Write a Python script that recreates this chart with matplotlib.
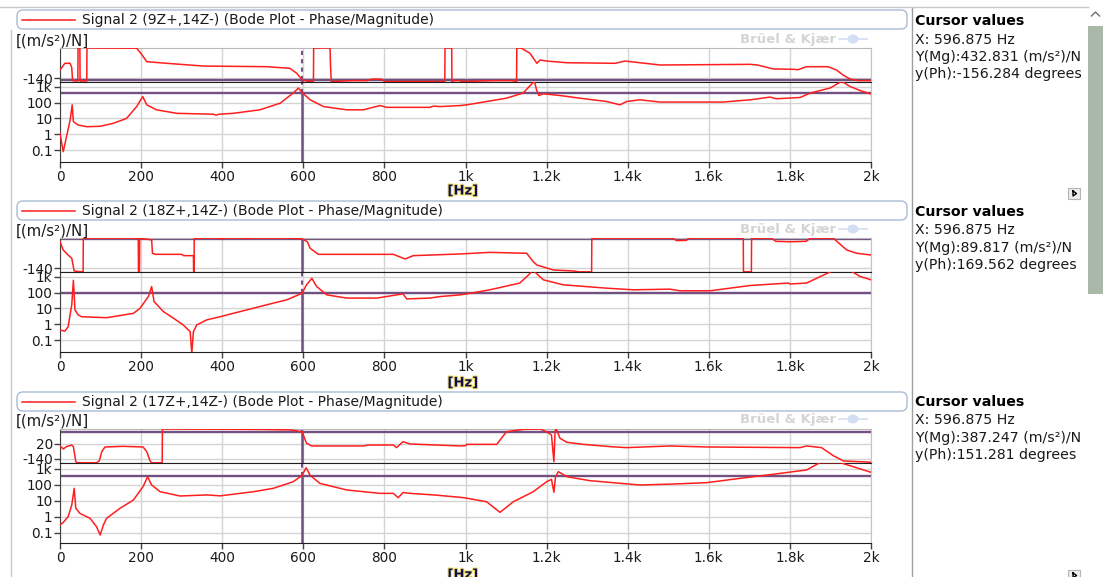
import matplotlib
matplotlib.use('Agg')
import matplotlib.pyplot as plt
import matplotlib.patheffects as pe
from matplotlib.patches import FancyBboxPatch, Rectangle, Ellipse
from matplotlib.ticker import FixedLocator, FixedFormatter, NullLocator

W, H = 1103, 577

# axis ticks
FREQ_TICKS = [0, 200, 400, 600, 800, 1000, 1200, 1400, 1600, 1800, 2000]
FREQ_LABELS = ['0', '200', '400', '600', '800', '1k', '1.2k', '1.4k', '1.6k', '1.8k', '2k']
MAG_TICKS = [0.1, 1, 10, 100, 1000]
MAG_LABELS = ['0.1', '1', '10', '100', '1k']

SIGNALS = ['Signal 2 (9Z+,14Z-) (Bode Plot - Phase/Magnitude)',
           'Signal 2 (18Z+,14Z-) (Bode Plot - Phase/Magnitude)',
           'Signal 2 (17Z+,14Z-) (Bode Plot - Phase/Magnitude)']

CURSOR_HZ = 596.875
CURSOR_MAG = [432.831, 89.817, 387.247]
CURSOR_PH = [-156.284, 169.562, 151.281]

# --- 9Z+,14Z- ---
P1_PH_HZ = [0, 12, 25, 29, 31, 44, 44.5, 49, 49.5, 66, 66.5, 189, 200, 214, 263, 353, 510, 567, 584,
            596.875, 610, 625, 625.5, 666, 667, 669, 723, 740, 757, 769, 793, 800, 949, 949.5, 966, 966.5,
            974, 986, 990, 1073, 1114, 1126, 1126.5, 1138, 1159, 1176, 1184, 1200, 1250, 1369, 1393, 1430,
            1480, 1702, 1720, 1759, 1808, 1820, 1841, 1894, 1915, 1931, 1948, 1968, 2000]
P1_PH_DEG = [-53, 18, 18, -30, -165, -170, 180, 180, -170, -170, 180, 178, 120, 35, 18, -11, -18, -35, -88,
             -156, -172, -172, 180, 180, 0, -175, -165, -165, -165, -150, -150, -175, -175, 180, 180, -175,
             -165, -165, -175, -165, -165, -175, 180, 178, 124, 18, 53, 42, 24, 18, 42, 24,
             0, 7, 0, -42, -45, -50, -18, -18, -53, -106, -148, -165, -165]
P1_MG_HZ = [0, 8, 25, 30, 33, 44, 66, 99, 131, 164, 189, 204, 214, 238, 288, 378, 385, 392, 427, 493, 543,
            575, 588, 596.875, 617, 650, 707, 748, 789, 806, 912, 921, 937, 987, 1003, 1101, 1142, 1170,
            1175, 1181, 1192, 1233, 1282, 1348, 1381, 1397, 1430, 1480, 1635, 1702, 1751, 1767, 1825, 1850,
            1899, 1928, 1948, 1973, 2000]
P1_MG_VAL = [1.15, 0.08, 8, 72, 6.3, 3.9, 3.0, 3.2, 4.9, 10, 56, 240, 72, 35, 21, 18.5, 16, 18.5, 21, 35, 92,
             400, 830, 433, 150, 56, 35, 35, 65, 50, 50, 60, 56, 65, 72, 190, 400, 2300,
             645, 280, 360, 280, 190, 117, 72, 117, 150, 108, 108, 150, 222, 175, 210, 400,
             830, 2200, 1050, 580, 350]

# --- 18Z+,14Z- ---
P2_PH_HZ = [0, 8, 20, 29, 35, 45, 57, 57.5, 193, 193.5, 196, 196.5, 226, 228, 235, 300, 305, 329, 329.5,
            330.5, 331, 395, 398, 402, 460, 463, 466, 570, 596.875, 610, 617, 637, 822, 851, 871, 987, 1060,
            1151, 1167, 1176, 1217, 1266, 1280, 1311, 1311.5, 1389, 1512, 1520, 1545, 1550, 1685, 1685.5,
            1705, 1705.5, 1755, 1765, 1800, 1840, 1850, 1907, 1940, 1965, 2000]
P2_PH_DEG = [141, 53, 0, -35, -169, -175, -178, 178, 178, -178, -178, 178, 160, 18, 7, 7, -7, -7, -178,
             -178, 178, 178, 165, 178, 178, 170, 178, 178, 170, 140, 71, 7, 7, -42, -7, 11, 28,
             18, -71, -106, -159, -169, -178, -178, 178, 178, 178, 152, 155, 178, 178, -178,
             -178, 178, 178, 145, 140, 145, 178, 178, 53, 18, 0]
P2_MG_HZ = [0, 12, 20, 29, 33, 37, 45, 53, 115, 181, 197, 218, 226, 232, 255, 280, 304, 321, 325, 329, 337,
            362, 395, 427, 460, 510, 559, 596.875, 608, 621, 633, 658, 707, 781, 846, 855, 912, 937, 987,
            999, 1060, 1134, 1167, 1192, 1241, 1348, 1414, 1504, 1529, 1603, 1702, 1796, 1800, 1841, 1907,
            1948, 1973, 2000]
P2_MG_VAL = [0.43, 0.37, 0.7, 17, 600, 8, 3.9, 3.0, 2.6, 4.9, 10, 56, 240, 27, 6.3, 2.4, 0.9, 0.34, 0.015,
             0.34, 0.9, 1.9, 3.0, 4.9, 8, 17, 35, 89.8, 310, 800, 240, 72, 45, 45, 83, 40, 45, 56, 72,
             80, 150, 400, 2500, 640, 310, 190, 150, 165, 130, 130, 280, 400, 350, 400, 2500,
             2500, 1050, 640]

# --- 17Z+,14Z- ---
P3_PH_HZ = [0, 8, 16, 29, 33, 39, 42, 90, 97, 103, 111, 156, 205, 214, 222, 226, 252, 252.5, 395, 500, 570,
            596.875, 608, 621, 748, 760, 822, 830, 846, 863, 987, 1000, 1003, 1077, 1101, 1143, 1184, 1200,
            1212, 1218, 1221, 1224, 1233, 1250, 1291, 1356, 1397, 1504, 1595, 1825, 1841, 1878, 1907, 1932,
            2000]
P3_PH_DEG = [-1, -33, -8, 9, -8, -169, -180, -180, -160, -62, -12, -5, -12, -62, -160, -180, -180, 180, 178,
             175, 170, 151, 27, -1, -1, 9, 9, -19, 45, 20, -1, 2, 16, 16, 151, 176, 180, 151,
             116, -169, 160, 180, 81, 38, 16, -8, -19, -1, -12, -19, -1, -19, -105, -161, -175]
P3_MG_HZ = [0, 8, 20, 29, 35, 39, 49, 74, 90, 99, 107, 115, 148, 181, 205, 216, 226, 247, 296, 362, 395, 477,
            526, 575, 596.875, 607, 617, 641, 707, 789, 822, 834, 846, 863, 921, 987, 1003, 1052, 1085,
            1118, 1167, 1200, 1212, 1218, 1222, 1229, 1250, 1307, 1430, 1512, 1595, 1677, 1759, 1841, 1874,
            1924, 1956, 2000]
P3_MG_VAL = [0.32, 0.46, 1.05, 5.6, 62, 3.5, 1.7, 0.83, 0.25, 0.075, 0.32, 0.83, 3.5, 11.5, 80, 330, 100, 38,
             20.5, 24, 21, 38, 62, 160, 387, 1200, 400, 126, 49, 30, 30, 16, 34, 30, 24, 17, 15, 9, 1.95,
             9, 38, 160, 225, 35, 330, 680, 330, 186, 100, 115, 140, 260, 470, 870, 2500,
             2500, 1400, 620]

PHASE_HZ = [P1_PH_HZ, P2_PH_HZ, P3_PH_HZ]
PHASE_DEG = [P1_PH_DEG, P2_PH_DEG, P3_PH_DEG]
MAG_HZ = [P1_MG_HZ, P2_MG_HZ, P3_MG_HZ]
MAG_VAL = [P1_MG_VAL, P2_MG_VAL, P3_MG_VAL]

# pixel layout of the three panels
PH_TOP = [48, 238, 429]
PH_BOT = [82, 272, 463]
MG_BOT = [162, 352, 543]
PH_LIM = [(-180, 180), (-180, 180), (-183, 180)]
PH_TICKS = [[-140], [-140], [20, -140]]
MG_LIM = [(10 ** -1.75, 10 ** 3.3), (10 ** -1.75, 10 ** 3.3), (10 ** -1.625, 10 ** 3.375)]
LEG_Y = [10, 201, 392]
TEXT_Y = [41, 231, 421]
HZ_Y = [191, 383, 575]
CURSOR_Y = [21, 212, 402]

RED = '#FF1E1E'
PURPLE = '#725082'
GRID = '#D4D4D4'
TXT = '#1A1A1A'

fig = plt.figure(figsize=(W / 100, H / 100), dpi=100)
fig.patch.set_facecolor('white')


def px_axes(l, t, r, b, **kw):
    return fig.add_axes([l / W, 1 - b / H, (r - l) / W, (b - t) / H], **kw)


bg = px_axes(0, 0, W, H)
bg.set_xlim(0, W)
bg.set_ylim(H, 0)
bg.axis('off')

# window frame lines
bg.plot([0, 1088], [6.5, 6.5], color='#C8C8C8', lw=1)
bg.plot([11, 11], [30, H], color='#C8C8C8', lw=1)
bg.plot([912, 912], [8, H], color='#A0A0A0', lw=1)

# scrollbar
bg.add_patch(Rectangle((1088, 26), 15, 268, fc='#A9B8A8', ec='none'))
bg.plot([1091.5, 1095.5, 1099.5], [16, 12, 16], color='#707070', lw=1)
for by in [188, 570]:
    bg.add_patch(Rectangle((1068, by), 12, 11, fc='#EDEDED', ec='#B5B5B5', lw=0.8))
    bg.plot([1073, 1073, 1076.5, 1073], [by + 3, by + 8, by + 5.5, by + 3], color='black', lw=1)

for i in range(3):
    ly = LEG_Y[i]
    bg.add_patch(FancyBboxPatch((17, ly), 890, 19, boxstyle='round,pad=0,rounding_size=6',
                                fc='white', ec='#A9BCD4', lw=1))
    bg.plot([22, 75], [ly + 10, ly + 10], color=RED, lw=1.1)
    bg.text(82, ly + 10, SIGNALS[i], fontsize=10, va='center', ha='left', color=TXT)
    bg.text(16, TEXT_Y[i], '[(m/s²)/N]', fontsize=10.8, va='center', ha='left', color=TXT)
    bg.text(740, TEXT_Y[i] - 2, 'Brüel & Kjær', fontsize=9.5, fontweight='bold', va='center',
            ha='left', color='#D4D4D4')
    bg.add_patch(Ellipse((853, TEXT_Y[i] - 2), 11, 9, fc='#D3DEF2', ec='none'))
    bg.plot([839, 867], [TEXT_Y[i] - 2, TEXT_Y[i] - 2], color='#D3DEF2', lw=1.2)
    bg.text(463, HZ_Y[i], '[Hz]', fontsize=9.5, fontweight='bold', va='center', ha='center',
            color='#10104A', path_effects=[pe.withStroke(linewidth=1.6, foreground='#F4E47A')])

    # phase axes
    ph = px_axes(60, PH_TOP[i], 871, PH_BOT[i])
    ph.set_xlim(0, 2000)
    ph.set_ylim(*PH_LIM[i])
    ph.xaxis.set_major_locator(FixedLocator(FREQ_TICKS))
    ph.set_xticklabels([])
    ph.tick_params(axis='x', length=0)
    ph.yaxis.set_major_locator(FixedLocator(PH_TICKS[i]))
    ph.yaxis.set_major_formatter(FixedFormatter([str(v) for v in PH_TICKS[i]]))
    ph.tick_params(axis='y', length=4, width=1, pad=1, labelsize=9.8, color='#404040',
                   labelcolor=TXT)
    ph.grid(True, color=GRID, lw=1)
    ph.set_axisbelow(True)
    ph.plot(PHASE_HZ[i], PHASE_DEG[i], color=RED, lw=1.1, zorder=3)
    ph.axhline(CURSOR_PH[i], color=PURPLE, lw=1.7, zorder=2.5)
    ph.plot([CURSOR_HZ, CURSOR_HZ], [CURSOR_PH[i], PH_LIM[i][1]], color=PURPLE, lw=1.5,
            ls=(0, (2, 2)), zorder=2.5)
    ph.plot([CURSOR_HZ, CURSOR_HZ], [PH_LIM[i][0], CURSOR_PH[i]], color=PURPLE, lw=1.8, zorder=2.5)

    # magnitude axes
    mg = px_axes(60, PH_BOT[i], 871, MG_BOT[i])
    mg.set_xlim(0, 2000)
    mg.set_yscale('log')
    mg.set_ylim(*MG_LIM[i])
    mg.xaxis.set_major_locator(FixedLocator(FREQ_TICKS))
    mg.xaxis.set_major_formatter(FixedFormatter(FREQ_LABELS))
    mg.yaxis.set_major_locator(FixedLocator(MAG_TICKS))
    mg.yaxis.set_major_formatter(FixedFormatter(MAG_LABELS))
    mg.yaxis.set_minor_locator(NullLocator())
    mg.tick_params(axis='both', length=4, width=1, pad=1.5, labelsize=9.8, color='#404040',
                   labelcolor=TXT)
    mg.grid(True, color=GRID, lw=1)
    mg.set_axisbelow(True)
    mg.plot(MAG_HZ[i], MAG_VAL[i], color=RED, lw=1.1, zorder=3)
    mg.axhline(CURSOR_MAG[i], color=PURPLE, lw=1.7, zorder=2.5)
    mg.plot([CURSOR_HZ, CURSOR_HZ], [CURSOR_MAG[i], MG_LIM[i][1]], color=PURPLE, lw=1.5,
            ls=(0, (2, 2)), zorder=2.5)
    mg.plot([CURSOR_HZ, CURSOR_HZ], [MG_LIM[i][0], CURSOR_MAG[i]], color=PURPLE, lw=1.8, zorder=2.5)

    for ax in (ph, mg):
        ax.spines['left'].set_color('#404040')
        ax.spines['right'].set_color('#C4C4C4')
        ax.spines['top'].set_color('#202020')
        ax.spines['bottom'].set_color('#202020')
    ph.spines['top'].set_color('#B8B8B8')

# cursor readouts, clipped just left of the scrollbar
cur = px_axes(912, 0, 1082, H)
cur.set_xlim(912, 1082)
cur.set_ylim(H, 0)
cur.axis('off')
for i in range(3):
    y0 = CURSOR_Y[i]
    cur.text(915, y0, 'Cursor values', fontsize=10.2, fontweight='bold', va='center', clip_on=True)
    cur.text(915, y0 + 18.5, 'X: {} Hz'.format(CURSOR_HZ), fontsize=10.2, va='center', clip_on=True,
             color=TXT)
    cur.text(915, y0 + 36, 'Y(Mg):{:.3f} (m/s²)/N'.format(CURSOR_MAG[i]), fontsize=10.2, va='center',
             clip_on=True, color=TXT)
    cur.text(915, y0 + 53, 'y(Ph):{:.3f} degrees'.format(CURSOR_PH[i]), fontsize=10.2, va='center',
             clip_on=True, color=TXT)

fig.savefig('out.png', dpi=100)
